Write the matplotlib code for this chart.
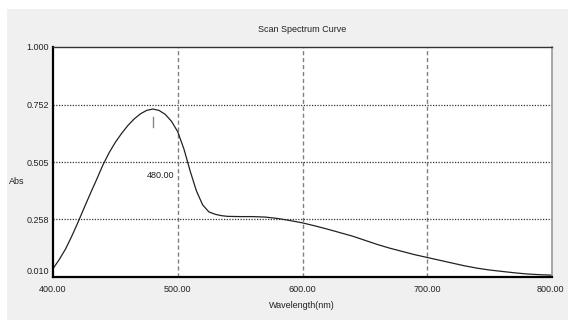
import matplotlib
matplotlib.use('Agg')
import matplotlib.pyplot as plt
from matplotlib.patches import Rectangle
from matplotlib.transforms import ScaledTranslation

plt.rcParams['font.family'] = ['Liberation Sans', 'DejaVu Sans']

# values
wavelength = [400, 405, 410, 415, 420, 425, 430, 435, 440, 445, 450, 455, 460, 465, 470, 475,
              480, 485, 490, 495, 500, 505, 510, 515, 520, 525, 530, 535, 540, 550, 560,
              570, 580, 590, 600, 610, 620, 630, 640, 650, 660, 670, 680, 690, 700,
              710, 720, 730, 740, 750, 760, 770, 780, 790, 800]
absorb = [0.046, 0.085, 0.130, 0.185, 0.245, 0.308, 0.370, 0.430, 0.492, 0.545, 0.590, 0.628,
          0.662, 0.690, 0.712, 0.727, 0.733, 0.727, 0.710, 0.680, 0.635, 0.560, 0.465,
          0.380, 0.320, 0.290, 0.280, 0.274, 0.271, 0.270, 0.270, 0.268, 0.262, 0.253,
          0.243, 0.230, 0.216, 0.201, 0.186, 0.168, 0.150, 0.134, 0.120, 0.106, 0.094,
          0.082, 0.070, 0.058, 0.048, 0.040, 0.034, 0.028, 0.023, 0.020, 0.018]

peak_wl = 480.0
x_ticks = [400, 500, 600, 700, 800]
x_labels = ['400.00', '500.00', '600.00', '700.00', '800.00']
y_ticks = [0.010, 0.258, 0.505, 0.752, 1.000]
y_labels = ['0.010', '0.258', '0.505', '0.752', '1.000']

fs = 6.5

fig = plt.figure(figsize=(5.68, 3.2), dpi=100, facecolor='white')
fig.patches.append(Rectangle((7 / 568, 0), 1, 1 - 9 / 320, transform=fig.transFigure,
                             facecolor='#f0f0f0', edgecolor='none', zorder=-1))

ax = fig.add_axes([53 / 568, 43 / 320, 499 / 568, 230 / 320])
ax.set_facecolor('white')
ax.plot(wavelength, absorb, color='#222222', lw=0.9)

# peak marker
ax.plot([peak_wl, peak_wl], [0.656, 0.700], color='#888888', lw=1)
ax.text(486, 0.448, '%.2f' % peak_wl, ha='center', va='center', fontsize=fs, color='#222222')

ax.set_xlim(400, 800)
ax.set_ylim(0.010, 1.000)
ax.set_xticks(x_ticks)
ax.set_xticklabels(x_labels)
ax.set_yticks(y_ticks)
ax.set_yticklabels(y_labels)
ax.tick_params(length=0, labelsize=fs, colors='#222222')
ax.tick_params(axis='x', pad=6)
ax.tick_params(axis='y', pad=3)

lab0 = ax.get_yticklabels()[0]
lab0.set_transform(lab0.get_transform() + ScaledTranslation(0, 0.07, fig.dpi_scale_trans))
labx = ax.get_xticklabels()[-1]
labx.set_transform(labx.get_transform() + ScaledTranslation(-0.02, 0, fig.dpi_scale_trans))

for xv in x_ticks[1:-1]:
    ax.axvline(xv, color='#808080', lw=1, ls=(0, (3, 2)), zorder=0)
for yv in y_ticks[1:-1]:
    ax.axhline(yv, color='#333333', lw=0.9, ls=(0, (1, 1.2)), zorder=0)

ax.spines['left'].set_linewidth(1.6)
ax.spines['bottom'].set_linewidth(1.6)
ax.spines['top'].set_linewidth(1.0)
ax.spines['top'].set_color('#333333')
ax.spines['right'].set_color('#999999')
ax.spines['right'].set_linewidth(1.2)

fig.text(302 / 568, 1 - 30 / 320, 'Scan Spectrum Curve', ha='center', va='center', fontsize=fs,
         color='#222222')
fig.text(302 / 568, 1 - 306 / 320, 'Wavelength(nm)', ha='center', va='center', fontsize=fs,
         color='#222222')
fig.text(17 / 568, 1 - 182 / 320, 'Abs', ha='center', va='center', fontsize=fs, color='#222222')

fig.savefig('out.png', dpi=100, facecolor=fig.get_facecolor())
